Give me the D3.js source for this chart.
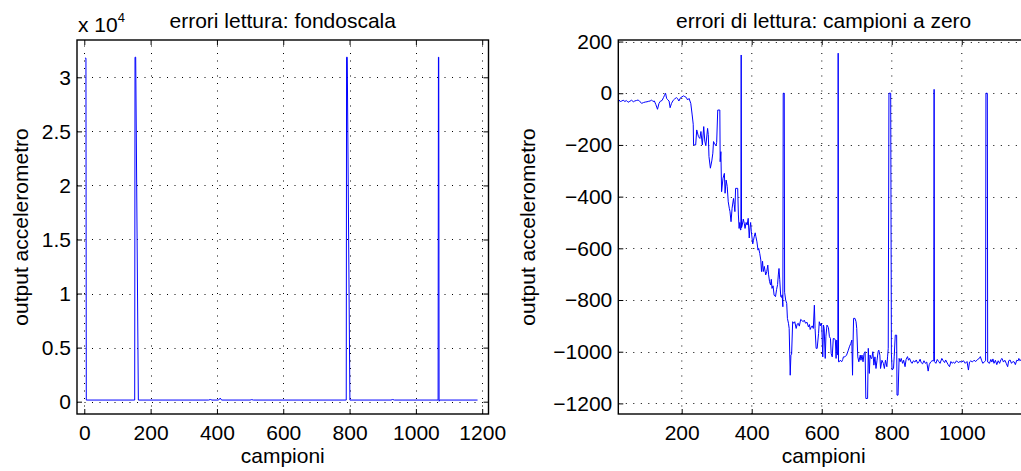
<!DOCTYPE html>
<html>
<head>
<meta charset="utf-8">
<script src="https://cdn.jsdelivr.net/npm/d3@7"></script>
<style>
  html, body { margin: 0; padding: 0; background: #fff; }
  svg { display: block; }
  text { font-family: "Liberation Sans", Arial, Helvetica, sans-serif; fill: #000; }
</style>
</head>
<body>
<svg id="chart" width="1021" height="471"></svg>
<script>
// ---- Left panel: raw accelerometer output with full-scale read errors ----
const leftSamples = [2, 5, 6, 152, 153, 155, 163, 375, 380, 385,
                     405, 410, 414, 500, 505, 510, 790, 791, 793, 801,
                     925, 930, 935, 1067, 1068, 1069, 1070, 1071, 1186];
const leftValues  = [31770, 31770, 150, 150, 31860, 31860, 150, 150, 200, 150,
                     150, 330, 150, 150, 190, 150, 150, 31860, 31860, 150,
                     150, 200, 150, 150, 31860, 31860, 40, 150, 150];
const leftXTicks = [0, 200, 400, 600, 800, 1000, 1200];
const leftYTicks = [0, 5000, 10000, 15000, 20000, 25000, 30000];
const leftYTickLabels = ["0", "0.5", "1", "1.5", "2", "2.5", "3"];

// ---- Right panel: accelerometer output with zero-sample read errors ----
const rightSamples = [
  19, 21, 25, 29, 33, 38, 42, 47, 52, 57,
  62, 66, 71, 76, 81, 86, 91, 96, 101, 106,
  110, 114, 118, 122, 126, 131, 135, 139, 144, 148,
  151, 154, 157, 160, 164, 167, 171, 176, 180, 185,
  188, 192, 197, 201, 205, 209, 213, 217, 221, 226,
  230, 233, 234, 240, 243, 248, 252, 255, 259, 263,
  266, 269, 274, 276, 278, 282, 286, 289, 291, 294,
  298, 300, 303, 309, 310, 312, 314, 318, 322, 324,
  327, 330, 333, 336, 338, 341, 344, 348, 350, 352,
  354, 360, 362, 364, 366, 368, 369, 370, 371, 373,
  376, 379, 381, 384, 387, 390, 393, 395, 397, 399,
  401, 403, 405, 407, 410, 412, 415, 418, 420, 423,
  426, 428, 431, 433, 436, 440, 443, 446, 448, 451,
  454, 456, 458, 461, 464, 468, 471, 474, 476, 478,
  480, 483, 485, 487, 489, 490, 493, 494, 497, 500,
  502, 505, 507, 510, 512, 514, 517, 520, 523, 527,
  530, 533, 536, 540, 544, 547, 550, 554, 558, 562,
  565, 567, 570, 573, 576, 579, 581, 584, 587, 591,
  593, 596, 598, 600, 603, 605, 607, 610, 612, 615,
  619, 622, 625, 627, 630, 633, 636, 639, 641, 643,
  645, 646, 647, 648, 650, 653, 657, 660, 662, 666,
  671, 676, 679, 683, 686, 688, 689, 691, 695, 698,
  700, 703, 706, 710, 712, 715, 718, 721, 724, 726,
  731, 733, 736, 738, 741, 743, 746, 749, 752, 755,
  758, 761, 763, 766, 768, 772, 776, 779, 782, 786,
  788, 790, 792, 797, 799, 801, 805, 807, 810, 814,
  815, 818, 821, 824, 827, 831, 834, 838, 841, 845,
  848, 851, 855, 858, 862, 866, 870, 874, 878, 881,
  884, 888, 892, 896, 900, 904, 907, 911, 915, 920,
  921, 922, 926, 930, 934, 938, 943, 947, 951, 954,
  957, 961, 965, 969, 973, 976, 980, 985, 990, 995,
  1000, 1005, 1010, 1015, 1019, 1022, 1026, 1030, 1035, 1040,
  1045, 1050, 1053, 1057, 1060, 1064, 1068, 1069, 1073, 1074,
  1079, 1083, 1086, 1089, 1092, 1096, 1100, 1104, 1108, 1112,
  1115, 1119, 1123, 1127, 1131, 1134, 1138, 1142, 1146, 1150,
  1153, 1157, 1161, 1163, 1166, 1170, 1175, 1180, 1185, 1190
];
const rightValues = [
  -43, -26, -32, -30, -27, -32, -28, -35, -31, -27,
  -33, -30, -28, -26, -33, -39, -36, -34, -33, -31,
  -30, -26, -32, -30, -43, -62, -40, -31, -28, -17,
  -8, 0, -20, -25, -30, -56, -39, -27, -22, -17,
  -20, -30, -17, -14, -10, -13, -16, -26, -20, -39,
  -84, -120, -200, -200, -142, -168, -175, -148, -200, -129,
  -185, -203, -136, -160, -245, -290, -262, -232, -187, -195,
  -203, -190, -65, -65, -265, -226, -381, -329, -310, -387,
  -336, -360, -420, -445, -458, -497, -445, -407, -430, -458,
  -368, -368, -471, -523, -500, -529, -529, 148, -520, -510,
  -487, -505, -523, -500, -510, -484, -560, -520, -500, -536,
  -560, -583, -570, -556, -540, -555, -575, -607, -600, -620,
  -645, -690, -650, -690, -670, -703, -690, -665, -700, -729,
  -742, -720, -755, -745, -781, -787, -760, -740, -703, -678,
  -720, -787, -790, -780, -826, 0, 0, -770, -800, -813,
  -871, -890, -910, -1091, -1013, -1010, -884, -890, -884, -910,
  -893, -890, -901, -875, -880, -884, -878, -890, -886, -904,
  -895, -914, -905, -900, -910, -820, -910, -987, -987, -929,
  -884, -900, -890, -897, -1020, -897, -910, -1026, -940, -897,
  -906, -942, -949, -1007, -1020, -949, -949, -955, -1026, -955,
  -1010, -1013, 155, -1039, -1039, -1033, -1039, -1030, -1020, -1020,
  -1013, -994, -981, -968, -955, -1091, -1000, -871, -871, -884,
  -910, -1020, -1039, -1013, -1033, -1013, -1039, -1007, -1000, -1181,
  -1181, -987, -1084, -1013, -1026, -1026, -1000, -1052, -1020, -1065,
  -1033, -1000, -994, -1013, -1065, -1033, -1045, -1065, -1033, -1058,
  -1020, -987, 0, 0, -1007, -1071, -1065, -1020, -936, -936,
  -1168, -1168, -1026, -1039, -1026, -1045, -1033, -1058, -1030, -1019,
  -1033, -1026, -1040, -1045, -1035, -1040, -1032, -1045, -1038, -1029,
  -1042, -1047, -1035, -1045, -1040, -1075, -1050, -1040, -1035, -1035,
  15, -1038, -1045, -1030, -1038, -1045, -1026, -1035, -1042, -1032,
  -1040, -1050, -1058, -1038, -1045, -1040, -1045, -1035, -1042, -1038,
  -1040, -1035, -1045, -1038, -1071, -1040, -1035, -1040, -1033, -1038,
  -1030, -1026, -1019, -1035, -1045, -1040, -1035, 0, 0, -1040,
  -1045, -1030, -1040, -1028, -1045, -1033, -1050, -1035, -1045, -1030,
  -1026, -1040, -1033, -1045, -1058, -1035, -1032, -1045, -1038, -1040,
  -1050, -1033, -1035, -1026, -1035, -1030, -1040, -1035, -1042, -1038
];
const rightXTicks = [200, 400, 600, 800, 1000];
const rightYTicks = [-1200, -1000, -800, -600, -400, -200, 0, 200];

const FONT = 21;
const svg = d3.select("#chart");

// Format negative numbers with a true minus sign
const fmtSigned = d => (d < 0 ? "\u2212" + Math.abs(d) : String(d));

function drawPanel(opt) {
  const { left, top, width, height } = opt;
  const g = svg.append("g").attr("transform", `translate(${left},${top})`);

  const x = d3.scaleLinear().domain(opt.xDomain).range([0, width]);
  const y = d3.scaleLinear().domain(opt.yDomain).range([height, 0]);

  // dotted grid
  const grid = g.append("g")
    .attr("stroke", "#000")
    .attr("stroke-width", 1)
    .attr("stroke-dasharray", "1,6.5")
    .attr("fill", "none");
  grid.selectAll("line.gx").data(opt.xTicks).join("line")
    .attr("class", "gx")
    .attr("x1", d => Math.round(x(d)) + 0.5).attr("x2", d => Math.round(x(d)) + 0.5)
    .attr("y1", height).attr("y2", 0);
  grid.selectAll("line.gy").data(opt.yTicks).join("line")
    .attr("class", "gy")
    .attr("y1", d => Math.round(y(d)) + 0.5).attr("y2", d => Math.round(y(d)) + 0.5)
    .attr("x1", 0).attr("x2", width);

  // data trace
  const pts = opt.samples.map((s, i) => [s, opt.values[i]]);
  g.append("defs").append("clipPath").attr("id", opt.id + "-clip")
    .append("rect").attr("width", width).attr("height", height);
  g.append("path")
    .datum(pts)
    .attr("clip-path", `url(#${opt.id}-clip)`)
    .attr("fill", "none")
    .attr("stroke", "#0000ff")
    .attr("stroke-width", 1)
    .attr("stroke-linejoin", "round")
    .attr("d", d3.line().x(d => x(d[0])).y(d => y(d[1])));

  // axes with inward ticks (bottom/left labelled, top/right ticks only)
  const axB = d3.axisBottom(x).tickValues(opt.xTicks).tickSizeInner(-5).tickSizeOuter(0).tickPadding(11)
    .tickFormat(opt.xFormat);
  const axT = d3.axisTop(x).tickValues(opt.xTicks).tickSizeInner(-5).tickSizeOuter(0).tickFormat("");
  const axL = d3.axisLeft(y).tickValues(opt.yTicks).tickSizeInner(-5).tickSizeOuter(0).tickPadding(6)
    .tickFormat(opt.yFormat);
  const axR = d3.axisRight(y).tickValues(opt.yTicks).tickSizeInner(-5).tickSizeOuter(0).tickFormat("");

  const styleAxis = sel => {
    sel.select(".domain").remove();
    sel.selectAll("line").attr("stroke", "#000").attr("stroke-width", 1);
    sel.selectAll("text").attr("font-size", FONT).attr("font-family", null).attr("fill", "#000");
  };
  g.append("g").attr("transform", `translate(0,${height})`).call(axB).call(styleAxis);
  g.append("g").call(axT).call(styleAxis);
  g.append("g").call(axL).call(styleAxis);
  g.append("g").attr("transform", `translate(${width},0)`).call(axR).call(styleAxis);

  // box
  g.append("rect")
    .attr("x", 0).attr("y", 0).attr("width", width).attr("height", height)
    .attr("fill", "none").attr("stroke", "#000").attr("stroke-width", 1.4);

  // title and axis labels
  svg.append("text")
    .attr("x", left + width / 2).attr("y", 28)
    .attr("text-anchor", "middle").attr("font-size", FONT)
    .text(opt.title);
  svg.append("text")
    .attr("x", left + width / 2).attr("y", 463)
    .attr("text-anchor", "middle").attr("font-size", FONT)
    .text("campioni");
  svg.append("text")
    .attr("transform", `translate(${opt.yLabelX},${top + height / 2}) rotate(-90)`)
    .attr("text-anchor", "middle").attr("font-size", FONT)
    .text("output accelerometro");
}

drawPanel({
  id: "left",
  left: 77, top: 40, width: 411.5, height: 374,
  xDomain: [-22, 1219], yDomain: [-1140, 33450],
  xTicks: leftXTicks, yTicks: leftYTicks,
  xFormat: d => String(d),
  yFormat: (d, i) => leftYTickLabels[i],
  samples: leftSamples, values: leftValues,
  title: "errori lettura: fondoscala",
  yLabelX: 28
});

// exponent note for the left y axis
const expo = svg.append("text").attr("x", 78).attr("y", 32).attr("font-size", FONT);
expo.append("tspan").text("x 10");
expo.append("tspan").attr("font-size", 13).attr("dy", -10).text("4");

drawPanel({
  id: "right",
  left: 618.3, top: 40, width: 410.7, height: 374,
  xDomain: [19, 1192], yDomain: [-1241, 206],
  xTicks: rightXTicks, yTicks: rightYTicks,
  xFormat: d => String(d),
  yFormat: fmtSigned,
  samples: rightSamples, values: rightValues,
  title: "errori di lettura: campioni a zero",
  yLabelX: 535
});
</script>
</body>
</html>
